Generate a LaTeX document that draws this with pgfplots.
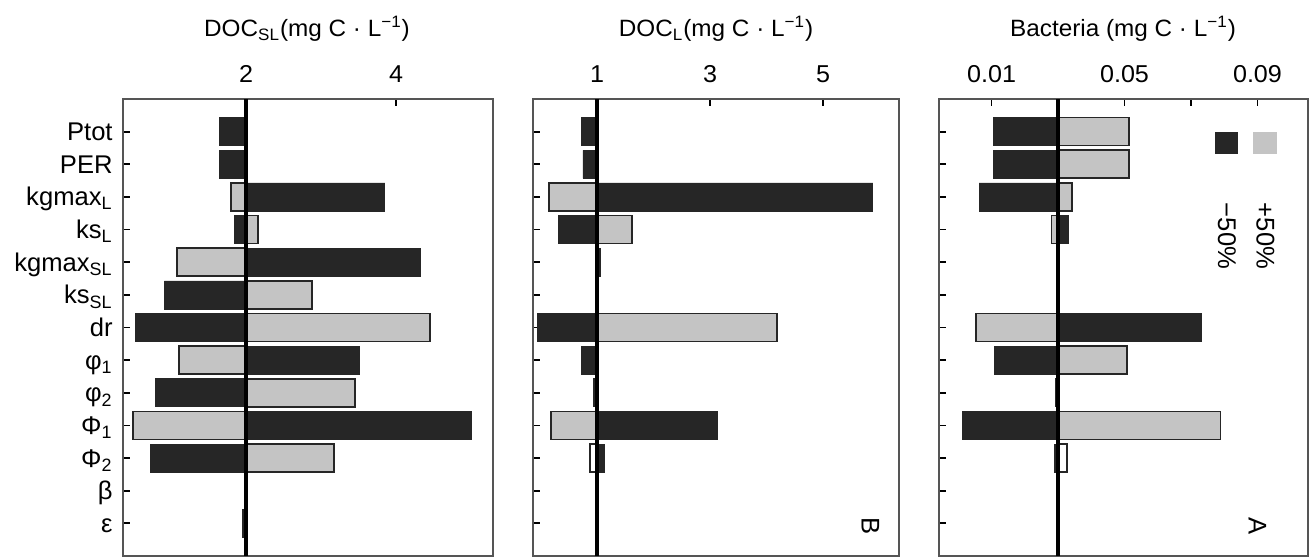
\documentclass[border=0pt]{standalone}
\usepackage{fontspec}
\setmainfont{Liberation Sans}
\newfontfamily\widefont[FakeStretch=1.03]{Liberation Sans}
\usepackage{pgfplots}
\pgfplotsset{compat=1.18}
\definecolor{dk}{HTML}{262626}
\definecolor{lt}{HTML}{C4C4C4}
\definecolor{fr}{HTML}{555555}
\newcommand{\ftitle}{\widefont\fontsize{11.8}{13}\selectfont}
\newcommand{\ftick}{\widefont\fontsize{12.2}{13}\selectfont}
\newcommand{\fbig}{\fontsize{12.8}{14}\selectfont}
\pgfplotsset{
 panel/.style={
  scale only axis, height=228.5pt, anchor=south west,
  y dir=reverse, ymin=0, ymax=14, ytick={1,...,13},
  axis line style={fr, line width=0.6pt},
  tick align=inside, major tick length=3.5pt,
  tick style={black, line width=0.9pt},
  xtick pos=right, ytick pos=left,
  xticklabel pos=right,
  scaled x ticks=false,
  xticklabel style={anchor=base, yshift=8.1pt, font=\ftick},
  /pgf/number format/assume math mode=true,
  clip=false,
 },
 lbar/.style={xbar, bar width=14pt, bar shift=0pt, fill=lt, draw=black!85, line width=0.8pt},
 wbar/.style={xbar, bar width=14pt, bar shift=0pt, fill=white, draw=black!85, line width=0.8pt},
 dbar/.style={xbar, bar width=14pt, bar shift=0pt, fill=dk, draw=dk, line width=0.3pt},
}
\begin{document}
\begin{tikzpicture}
\useasboundingbox (0,0) rectangle (654.5pt,278.5pt);
% Panel 1: DOC_SL, baseline 2
\begin{axis}[panel, at={(61.5pt,0.5pt)}, width=185pt,
  xmin=-1.64, xmax=3.293, xtick={0,2}, xticklabels={2,4},
  yticklabels={Ptot,PER,kgmax\textsubscript{L},ks\textsubscript{L},kgmax\textsubscript{SL},ks\textsubscript{SL},dr,φ\textsubscript{1},φ\textsubscript{2},Φ\textsubscript{1},Φ\textsubscript{2},β,ε},
  yticklabel style={anchor=base east, inner sep=0pt, xshift=-5pt, yshift=-4.5pt, font=\fbig}]
\addplot[lbar] table[x expr=\thisrow{v}-2, y=r]{
r v
3 1.80
4 2.16
5 1.08
6 2.88
7 4.45
8 1.11
9 3.45
10 0.49
11 3.17
};
\addplot[dbar] table[x expr=\thisrow{v}-2, y=r]{
r v
1 1.65
2 1.65
3 3.85
4 1.84
5 4.33
6 0.91
7 0.53
8 3.51
9 0.79
10 5.01
11 0.72
13 1.955
};
\draw[line width=1.8pt, black] (axis cs:0,0) -- (axis cs:0,14);
\end{axis}
% Panel 2: DOC_L, baseline 1
\begin{axis}[panel, at={(266.5pt,0.5pt)}, width=183pt,
  xmin=-1.133, xmax=5.345, xtick={0,2,4}, xticklabels={1,3,5},
  yticklabels={}]
\addplot[lbar] table[x expr=\thisrow{v}-1, y=r]{
r v
3 0.15
4 1.62
7 4.19
10 0.19
};
\addplot[wbar] table[x expr=\thisrow{v}-1, y=r]{
r v
11 0.88
};
\addplot[dbar] table[x expr=\thisrow{v}-1, y=r]{
r v
1 0.73
2 0.75
3 5.88
4 0.31
5 1.05
7 -0.06
8 0.72
9 0.94
10 3.12
11 1.12
};
\draw[line width=1.8pt, black] (axis cs:0,0) -- (axis cs:0,14);
\end{axis}
% Panel 3: Bacteria, baseline 0.03
\begin{axis}[panel, at={(469.5pt,0.5pt)}, width=184.5pt,
  xmin=-0.0358, xmax=0.0752, xtick={-0.02,0,0.02,0.04,0.06}, xticklabels={0.01,,0.05,,0.09},
  yticklabels={}]
\addplot[lbar] table[x expr=\thisrow{v}-0.03, y=r]{
r v
1 0.0513
2 0.0513
3 0.0342
4 0.0280
7 0.0054
8 0.0507
10 0.0789
};
\addplot[wbar] table[x expr=\thisrow{v}-0.03, y=r]{
r v
11 0.0327
};
\addplot[dbar] table[x expr=\thisrow{v}-0.03, y=r]{
r v
1 0.0105
2 0.0105
3 0.0063
4 0.0330
7 0.0732
8 0.0108
9 0.0291
10 0.0012
11 0.0288
};
\draw[line width=1.8pt, black] (axis cs:0,0) -- (axis cs:0,14);
\end{axis}
% titles
\node[anchor=base, font=\ftitle, inner sep=0pt] at (153.5pt,260.2pt) {DOC\textsubscript{SL}(mg C · L\textsuperscript{−1})};
\node[anchor=base, font=\ftitle, inner sep=0pt] at (358pt,260.2pt) {DOC\textsubscript{L}(mg C · L\textsuperscript{−1})};
\node[anchor=base, font=\ftitle, inner sep=0pt] at (561.5pt,260.2pt) {Bacteria (mg C · L\textsuperscript{−1})};
% legend
\fill[dk] (607.5pt,201.5pt) rectangle (619pt,212.5pt);
\fill[lt] (626.5pt,201.5pt) rectangle (638.5pt,212.5pt);
\node[rotate=-90, font=\fbig, inner sep=0pt] at (613.5pt,160.5pt) {−50\%};
\node[rotate=-90, font=\fbig, inner sep=0pt] at (632.75pt,160.5pt) {+50\%};
\node[rotate=-90, font=\fbig, inner sep=0pt] at (435.25pt,15.5pt) {B};
\node[rotate=-90, font=\fbig, inner sep=0pt] at (628.75pt,15.25pt) {A};
\end{tikzpicture}
\end{document}
